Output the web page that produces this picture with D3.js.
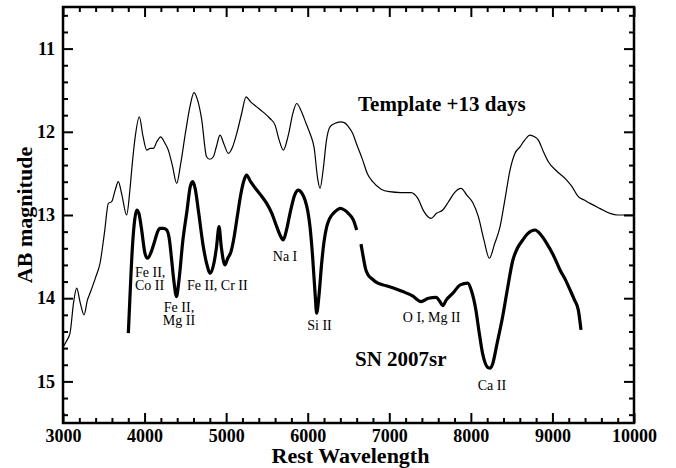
<!DOCTYPE html>
<html lang="en">

<head>
  <meta charset="UTF-8">
  <script src="https://cdn.jsdelivr.net/npm/d3@7"></script>
  <title>SN 2007sr spectrum</title>
  <style>
    body {
      margin: 0;
      background: #fff;
    }

    svg text {
      font-family: "Liberation Serif", "Times New Roman", serif;
    }

    path.curve {
      fill: none;
      stroke: #000;
    }
  </style>
</head>

<body>
  <script>
    // template spectrum, +13 days  [rest wavelength, AB mag]
    const template = [
      [3000, 14.59], [3040, 14.52], [3086, 14.42], [3130, 14.05], [3168, 13.88], [3210, 14.05],
      [3258, 14.20], [3300, 14.02], [3331, 13.94], [3400, 13.75], [3454, 13.58], [3510, 13.20],
      [3556, 12.86], [3597, 12.84], [3640, 12.70], [3678, 12.60], [3720, 12.75], [3780, 13.00],
      [3820, 12.70], [3842, 12.46], [3880, 12.10], [3936, 11.82], [3980, 12.05], [4026, 12.22],
      [4070, 12.20], [4107, 12.20], [4150, 12.12], [4198, 12.06], [4240, 12.12], [4291, 12.22],
      [4340, 12.40], [4394, 12.62], [4440, 12.40], [4500, 12.02], [4560, 11.68], [4606, 11.53],
      [4650, 11.62], [4700, 11.85], [4760, 12.30], [4800, 12.33], [4843, 12.30], [4880, 12.18],
      [4925, 12.04], [4970, 12.14], [5027, 12.26], [5080, 12.18], [5130, 12.02], [5190, 11.78],
      [5244, 11.58], [5300, 11.64], [5375, 11.70], [5450, 11.76], [5538, 11.84], [5600, 11.92],
      [5650, 12.10], [5701, 12.22], [5760, 12.05], [5820, 11.77], [5865, 11.66], [5920, 11.75],
      [5980, 11.90], [6028, 12.02], [6080, 12.20], [6120, 12.55], [6151, 12.68], [6190, 12.45],
      [6230, 12.10], [6273, 11.94], [6330, 11.90], [6400, 11.88], [6449, 11.89], [6500, 11.94],
      [6552, 12.02], [6600, 12.15], [6674, 12.34], [6730, 12.50], [6797, 12.60], [6900, 12.69],
      [7000, 12.72], [7140, 12.73], [7267, 12.73], [7350, 12.80], [7420, 12.95], [7512, 13.04],
      [7580, 12.98], [7655, 12.94], [7720, 12.85], [7800, 12.73], [7880, 12.68], [7950, 12.76],
      [8023, 12.85], [8092, 13.02], [8160, 13.30], [8227, 13.52], [8290, 13.35], [8358, 13.14],
      [8420, 12.80], [8480, 12.46], [8540, 12.26], [8603, 12.18], [8660, 12.10], [8725, 12.04],
      [8780, 12.06], [8827, 12.10], [8890, 12.24], [8950, 12.36], [9060, 12.48], [9175, 12.58],
      [9240, 12.66], [9317, 12.78], [9390, 12.82], [9461, 12.86], [9580, 12.92], [9706, 12.98],
      [9800, 13.00], [9869, 13.00], [10000, 13.00]
    ];

    // SN 2007sr, blue part
    const snBlue = [
      [3801, 14.42], [3820, 14.00], [3850, 13.40], [3880, 13.05], [3903, 12.94], [3930, 12.98],
      [3960, 13.15], [4005, 13.46], [4036, 13.52], [4090, 13.42], [4128, 13.30], [4160, 13.20],
      [4189, 13.16], [4230, 13.16], [4271, 13.18], [4305, 13.30], [4332, 13.54], [4360, 13.80],
      [4392, 13.98], [4420, 13.80], [4470, 13.30], [4520, 12.95], [4560, 12.66], [4590, 12.60],
      [4620, 12.68], [4660, 12.95], [4720, 13.38], [4760, 13.58], [4806, 13.70], [4850, 13.58],
      [4880, 13.40], [4913, 13.14], [4940, 13.38], [4985, 13.60], [5020, 13.52], [5060, 13.44],
      [5095, 13.28], [5130, 13.06], [5180, 12.75], [5220, 12.58], [5250, 12.52], [5300, 12.60],
      [5375, 12.70], [5440, 12.78], [5497, 12.86], [5560, 12.98], [5620, 13.14], [5660, 13.24],
      [5701, 13.30], [5740, 13.18], [5783, 12.98], [5840, 12.76], [5885, 12.70], [5930, 12.74],
      [5967, 12.82], [6000, 12.95], [6028, 13.14], [6060, 13.50], [6090, 13.94], [6110, 14.18],
      [6135, 14.00], [6171, 13.58], [6200, 13.32], [6233, 13.14], [6270, 13.04], [6314, 12.98],
      [6360, 12.94], [6396, 12.92], [6450, 12.94], [6498, 12.98], [6559, 13.06], [6600, 13.18]
    ];

    // SN 2007sr, red part
    const snRed = [
      [6653, 13.35], [6680, 13.50], [6710, 13.65], [6740, 13.72], [6780, 13.76], [6860, 13.82],
      [6960, 13.85], [7060, 13.88], [7165, 13.92], [7280, 13.97], [7389, 14.04], [7480, 14.00],
      [7573, 13.99], [7620, 14.04], [7655, 14.09], [7700, 14.02], [7780, 13.94], [7870, 13.84],
      [7961, 13.82], [8010, 13.92], [8063, 14.15], [8100, 14.40], [8145, 14.67], [8206, 14.83],
      [8240, 14.84], [8267, 14.79], [8320, 14.55], [8390, 14.22], [8450, 13.88], [8513, 13.55],
      [8570, 13.40], [8636, 13.30], [8700, 13.22], [8787, 13.18], [8860, 13.24], [8930, 13.34],
      [9010, 13.48], [9093, 13.66], [9160, 13.78], [9216, 13.90], [9270, 14.02], [9317, 14.14],
      [9350, 14.38]
    ];

    const xTicks = [3000, 4000, 5000, 6000, 7000, 8000, 9000, 10000];
    const yTicks = [11, 12, 13, 14, 15];

    // line identifications: text lines, anchor wavelength, baseline magnitude
    const lineIds = [
      { lines: ["Fe II,", "Co II"], wl: 3883, mag: 13.74, anchor: "start" },
      { lines: ["Fe II,", "Mg II"], wl: 4422, mag: 14.16, anchor: "middle" },
      { lines: ["Fe II, Cr II"], wl: 4520, mag: 13.90, anchor: "start" },
      { lines: ["Na I"], wl: 5722, mag: 13.55, anchor: "middle" },
      { lines: ["Si II"], wl: 6145, mag: 14.38, anchor: "middle" },
      { lines: ["O I, Mg II"], wl: 7518, mag: 14.29, anchor: "middle" },
      { lines: ["Ca II"], wl: 8259, mag: 15.10, anchor: "middle" }
    ];
    const titles = [
      { text: "Template +13 days", wl: 6617, mag: 11.75 },
      { text: "SN 2007sr", wl: 6580, mag: 14.82 }
    ];

    const width = 676, height = 468;
    const margin = { left: 63, right: 42, top: 7, bottom: 45 };

    const x = d3.scaleLinear().domain([3000, 10000])
      .range([margin.left, width - margin.right]);
    const y = d3.scaleLinear().domain([10.5, 15.5])
      .range([margin.top, height - margin.bottom]);

    const svg = d3.select("body").append("svg")
      .attr("width", width).attr("height", height);

    const line = d3.line()
      .x(d => x(d[0]))
      .y(d => y(d[1]))
      .curve(d3.curveMonotoneX);

    svg.append("path").datum(template).attr("class", "curve")
      .attr("d", line).attr("stroke-width", 1.2);
    [snBlue, snRed].forEach(seg => {
      svg.append("path").datum(seg).attr("class", "curve")
        .attr("d", line).attr("stroke-width", 3.2)
        .attr("stroke-linejoin", "round");
    });

    // axes: ticks inside on all four sides
    const xMinor = d3.range(3000, 10001, 200).filter(v => v % 1000);
    const yMinor = d3.range(10.6, 15.5, 0.2).filter(v => Math.abs(v - Math.round(v)) > 0.05);
    const axes = svg.append("g").attr("class", "axes");
    const b = height - margin.bottom, r = width - margin.right;

    axes.append("g").attr("transform", `translate(0,${b})`)
      .call(d3.axisBottom(x).tickValues(xTicks).tickSize(-10).tickPadding(6).tickFormat(d3.format("d")));
    axes.append("g").attr("transform", `translate(0,${b})`)
      .call(d3.axisBottom(x).tickValues(xMinor).tickSize(-5).tickFormat(""));
    axes.append("g").attr("transform", `translate(0,${margin.top})`)
      .call(d3.axisTop(x).tickValues(xTicks).tickSize(-10).tickFormat(""));
    axes.append("g").attr("transform", `translate(0,${margin.top})`)
      .call(d3.axisTop(x).tickValues(xMinor).tickSize(-5).tickFormat(""));
    axes.append("g").attr("transform", `translate(${margin.left},0)`)
      .call(d3.axisLeft(y).tickValues(yTicks).tickSize(-10).tickPadding(8).tickFormat(d3.format("d")));
    axes.append("g").attr("transform", `translate(${margin.left},0)`)
      .call(d3.axisLeft(y).tickValues(yMinor).tickSize(-5).tickFormat(""));
    axes.append("g").attr("transform", `translate(${r},0)`)
      .call(d3.axisRight(y).tickValues(yTicks).tickSize(-10).tickFormat(""));
    axes.append("g").attr("transform", `translate(${r},0)`)
      .call(d3.axisRight(y).tickValues(yMinor).tickSize(-5).tickFormat(""));

    axes.selectAll(".domain").remove();
    axes.selectAll(".tick line").attr("stroke", "#000").attr("stroke-width", 2);
    axes.selectAll(".tick text")
      .attr("fill", "#000")
      .style("font-size", "18px")
      .style("font-weight", "bold");

    svg.append("rect")
      .attr("x", margin.left).attr("y", margin.top)
      .attr("width", r - margin.left).attr("height", b - margin.top)
      .attr("fill", "none").attr("stroke", "#000").attr("stroke-width", 2.5);

    // axis titles
    svg.append("text")
      .attr("x", (margin.left + r) / 2 + 2).attr("y", 463)
      .attr("text-anchor", "middle")
      .style("font-size", "22px").style("font-weight", "bold")
      .text("Rest Wavelength");
    svg.append("text")
      .attr("transform", `translate(32,${(margin.top + b) / 2}) rotate(-90)`)
      .attr("text-anchor", "middle")
      .style("font-size", "22px").style("font-weight", "bold")
      .text("AB magnitude");

    // labels
    svg.selectAll("text.title").data(titles).join("text")
      .attr("class", "title")
      .attr("x", d => x(d.wl)).attr("y", d => y(d.mag))
      .style("font-size", "21px").style("font-weight", "bold")
      .text(d => d.text);

    const ids = svg.selectAll("text.lineid").data(lineIds).join("text")
      .attr("class", "lineid")
      .attr("x", d => x(d.wl)).attr("y", d => y(d.mag))
      .attr("text-anchor", d => d.anchor)
      .style("font-size", "14px");
    ids.selectAll("tspan").data(d => d.lines.map((t, i) => ({ t, i, d }))).join("tspan")
      .attr("x", o => x(o.d.wl))
      .attr("dy", o => o.i ? 13 : 0)
      .text(o => o.t);
  </script>
</body>

</html>
